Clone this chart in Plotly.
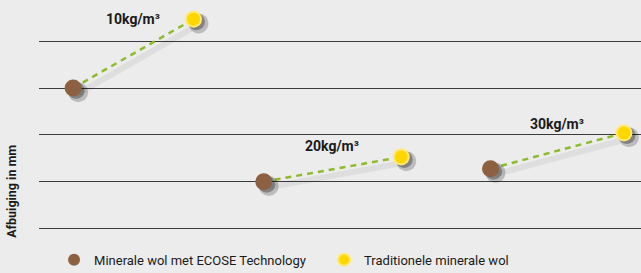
import plotly.graph_objects as go

# data
groups = ["10kg/m³", "20kg/m³", "30kg/m³"]
ecose_x = [0.34, 2.24, 4.50]
ecose_y = [3.0, 1.0, 1.28]
trad_x = [1.54, 3.61, 5.83]
trad_y = [4.47, 1.53, 2.04]
label_y = [4.47, 1.77, 2.24]
series_names = ["Minerale wol met ECOSE Technology", "Traditionele minerale wol"]
y_title = "Afbuiging in mm"

BROWN = "#8c6040"
YELLOW = "#ffd700"
GREEN = "#8dbb2e"
BG = "#ececec"
FONT = "Roboto, Liberation Sans, sans-serif"

fig = go.Figure()

sdx, sdy = 0.05, -0.09

for i in range(len(groups)):
    fig.add_trace(go.Scatter(
        x=[ecose_x[i] + sdx, trad_x[i] + sdx], y=[ecose_y[i] + sdy * 1.3, trad_y[i] + sdy * 1.3],
        mode="lines", line=dict(color="rgba(0,0,0,0.06)", width=6),
        showlegend=False, hoverinfo="skip"))
for i in range(len(groups)):
    fig.add_trace(go.Scatter(
        x=[ecose_x[i], trad_x[i]], y=[ecose_y[i], trad_y[i]],
        mode="lines", line=dict(color=GREEN, width=2.5, dash="6px,5px"),
        showlegend=False, hoverinfo="skip"))

fig.add_trace(go.Scatter(
    x=[v + sdx for v in ecose_x + trad_x], y=[v + sdy for v in ecose_y + trad_y],
    mode="markers", marker=dict(size=20, color="rgba(0,0,0,0.2)", line=dict(width=0)),
    showlegend=False, hoverinfo="skip"))
fig.add_trace(go.Scatter(
    x=[v + sdx * 0.6 for v in ecose_x + trad_x], y=[v + sdy * 0.6 for v in ecose_y + trad_y],
    mode="markers", marker=dict(size=17, color="rgba(0,0,0,0.3)", line=dict(width=0)),
    showlegend=False, hoverinfo="skip"))

fig.add_trace(go.Scatter(
    x=ecose_x, y=ecose_y, mode="markers", name=series_names[0],
    marker=dict(size=17, color=BROWN, line=dict(width=0))))
fig.add_trace(go.Scatter(
    x=trad_x, y=trad_y, mode="markers", name=series_names[1],
    marker=dict(size=15, color=YELLOW, line=dict(width=2, color="#ffe970"))))

for i, g in enumerate(groups):
    fig.add_annotation(
        x=(ecose_x[i] + trad_x[i]) / 2, y=label_y[i], text="<b>%s</b>" % g,
        showarrow=False, font=dict(family=FONT, size=14, color="#1a1a1a"))

fig.add_annotation(
    xref="paper", yref="paper", x=-0.045, y=0.17, text="<b>%s</b>" % y_title,
    textangle=-90, showarrow=False, xanchor="center", yanchor="middle",
    font=dict(family=FONT, size=12.5, color="#1a1a1a"))

fig.update_layout(
    width=641, height=273,
    margin=dict(l=39, r=0, t=0, b=43, autoexpand=False),
    paper_bgcolor=BG, plot_bgcolor=BG,
    showlegend=True,
    legend=dict(orientation="h", x=0.025, y=-0.064, xanchor="left", yanchor="top",
                font=dict(family=FONT, size=13, color="#1a1a1a"),
                bgcolor="rgba(0,0,0,0)", traceorder="normal",
                entrywidth=225, entrywidthmode="pixels", itemsizing="constant"),
    xaxis=dict(range=[0, 6], showgrid=False, zeroline=False, showticklabels=False,
               showline=False, fixedrange=True),
    yaxis=dict(range=[-0.03, 4.88], tickmode="linear", tick0=0, dtick=1,
               showgrid=True, gridcolor="#3a3a3a", gridwidth=1,
               zeroline=False, showticklabels=False, showline=False, fixedrange=True),
)

fig.write_html("out.html", config={"displayModeBar": False},
               post_script="document.body.style.margin='0';document.body.style.background='#ececec';")
